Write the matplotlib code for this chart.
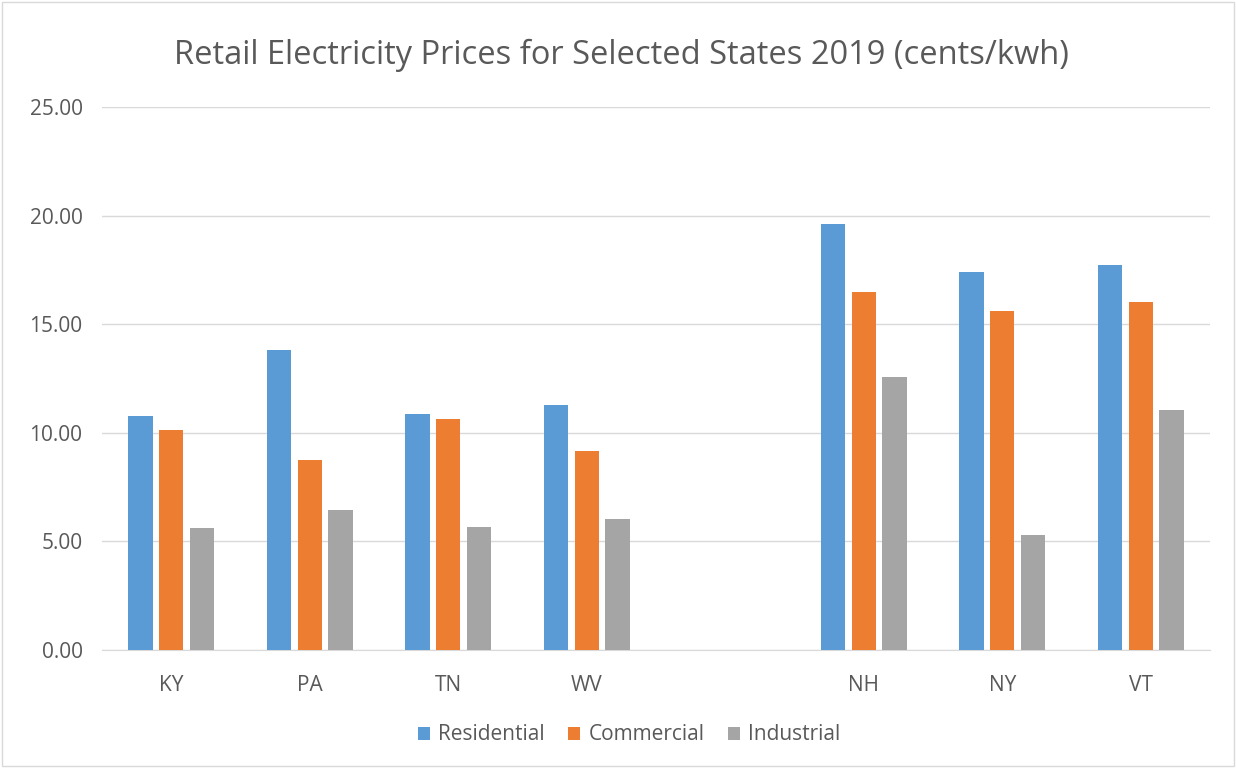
# Libraries
import numpy as np
import matplotlib
matplotlib.use("Agg")
import matplotlib.pyplot as plt
from matplotlib.patches import Rectangle

# Data (cents/kwh), blank slot between WV and NH
states = ["KY", "PA", "TN", "WV", "", "NH", "NY", "VT"]
residential = [10.77, 13.81, 10.87, 11.28, np.nan, 19.61, 17.40, 17.73]
commercial = [10.13, 8.75, 10.64, 9.16, np.nan, 16.48, 15.61, 16.02]
industrial = [5.62, 6.45, 5.66, 6.03, np.nan, 12.57, 5.29, 11.05]
series_names = ["Residential", "Commercial", "Industrial"]
y_ticks = [0, 5, 10, 15, 20, 25]

colours = ["#5B9BD5", "#ED7D31", "#A5A5A5"]
text_col = "#595959"
plt.rcParams["font.family"] = ["Open Sans", "DejaVu Sans"]

fig = plt.figure(figsize=(12.36, 7.68), dpi=100)
ax = fig.add_axes([0.0825, 0.1536, 0.8965, 0.7071])

# Grouped bars
x = np.arange(len(states))
width = 0.175
offset = 0.222
for i, values in enumerate([residential, commercial, industrial]):
    ax.bar(x + (i - 1) * offset, values, width, color=colours[i], label=series_names[i], zorder=3)

# Axes styling
ax.set_xlim(-0.5, len(states) - 0.5)
ax.set_ylim(0, 25)
ax.set_yticks(y_ticks)
ax.set_yticklabels(["%.2f" % v for v in y_ticks])
ax.set_xticks(x)
ax.set_xticklabels(states)
ax.grid(axis="y", color="#D9D9D9", linewidth=1, zorder=0)
for side in ["top", "right", "left"]:
    ax.spines[side].set_visible(False)
ax.spines["bottom"].set_color("#D9D9D9")
ax.tick_params(axis="both", length=0, labelsize=15, colors=text_col)
ax.tick_params(axis="x", pad=18)
ax.tick_params(axis="y", pad=14)

# Title and legend
fig.text(0.503, 0.928, "Retail Electricity Prices for Selected States 2019 (cents/kwh)",
         ha="center", va="center", fontsize=23.5, color=text_col)
fig.legend(loc="center", bbox_to_anchor=(0.509, 0.043), ncol=3, frameon=False,
           fontsize=15, labelcolor=text_col, handlelength=0.6, handleheight=0.6,
           columnspacing=1.1, handletextpad=0.4)

# Chart border
fig.patches.append(Rectangle((0.002, 0.002), 0.996, 0.996, transform=fig.transFigure,
                             fill=False, edgecolor="#D9D9D9", linewidth=1))

plt.savefig("out.png")
